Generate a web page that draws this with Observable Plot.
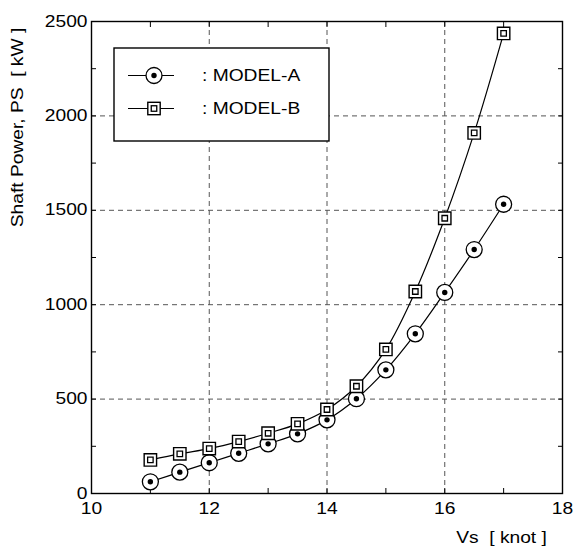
<!DOCTYPE html>
<html>
<head>
<meta charset="utf-8">
<script src="https://cdn.jsdelivr.net/npm/d3@7"></script>
<script src="https://cdn.jsdelivr.net/npm/@observablehq/plot@0.6"></script>
<style>
  html, body { margin: 0; padding: 0; background: #fff; }
  svg text { white-space: pre; }
</style>
</head>
<body>
<div id="chart"></div>
<script>
// ---- data ----
const speeds = [11, 11.5, 12, 12.5, 13, 13.5, 14, 14.5, 15, 15.5, 16, 16.5, 17];
const modelA = [62, 113, 163, 213, 263, 316, 390, 502, 655, 846, 1065, 1292, 1532];
const modelB = [178, 210, 238, 275, 319, 369, 445, 568, 763, 1070, 1458, 1910, 2437];
const seriesNames = ["MODEL-A", "MODEL-B"];
const xTicksMajor = [10, 12, 14, 16, 18];
const xTicksAll = [10, 11, 12, 13, 14, 15, 16, 17, 18];
const yTicksMajor = [0, 500, 1000, 1500, 2000, 2500];
const yTicksAll = [0, 250, 500, 750, 1000, 1250, 1500, 1750, 2000, 2250, 2500];
const xGrid = [12, 14, 16];
const yGrid = [500, 1000, 1500, 2000];
const xLabel = "Vs  [ knot ]";
const yLabel = "Shaft Power, PS  [ kW ]";

const A = speeds.map((v, i) => ({x: v, y: modelA[i]}));
const B = speeds.map((v, i) => ({x: v, y: modelB[i]}));

const FONT = "Liberation Sans, Arial, Helvetica, sans-serif";
const lab = d => xTicksMajor.includes(d) ? String(d) : "";
const ylab = d => yTicksMajor.includes(d) ? String(d) : "";

const chart = Plot.plot({
  width: 575,
  height: 552,
  marginLeft: 91,
  marginRight: 13,
  marginTop: 21,
  marginBottom: 59,
  style: {fontFamily: FONT, fontSize: "16px", background: "#fff", color: "#000"},
  x: {domain: [10, 18]},
  y: {domain: [0, 2500]},
  marks: [
    Plot.gridX(xGrid, {stroke: "#555", strokeOpacity: 1, strokeDasharray: "5,4", strokeWidth: 1}),
    Plot.gridY(yGrid, {stroke: "#555", strokeOpacity: 1, strokeDasharray: "5,4", strokeWidth: 1}),
    Plot.axisX(xTicksAll, {anchor: "bottom", tickSize: -5, tickPadding: 14, tickFormat: lab, label: null, fontSize: 16}),
    Plot.axisX(xTicksAll, {anchor: "top", tickSize: -5, tickFormat: () => "", label: null}),
    Plot.axisY(yTicksAll, {anchor: "left", tickSize: -5, tickPadding: 9, tickFormat: ylab, label: null, fontSize: 16}),
    Plot.axisY(yTicksAll, {anchor: "right", tickSize: -5, tickFormat: () => "", label: null}),
    Plot.frame({stroke: "#000", strokeWidth: 1.4}),
    Plot.line(A, {x: "x", y: "y", curve: "catmull-rom", stroke: "#000", strokeWidth: 1.2}),
    Plot.line(B, {x: "x", y: "y", curve: "catmull-rom", stroke: "#000", strokeWidth: 1.2}),
    Plot.dot(A, {x: "x", y: "y", r: 8, fill: "#fff", stroke: "#000", strokeWidth: 1.3}),
    Plot.dot(A, {x: "x", y: "y", r: 2.7, fill: "#000", stroke: "none"}),
    Plot.dot(B, {x: "x", y: "y", symbol: "square", r: 7, fill: "#fff", stroke: "#000", strokeWidth: 1.4}),
    Plot.dot(B, {x: "x", y: "y", symbol: "square", r: 3.1, fill: "#fff", stroke: "#000", strokeWidth: 1.3}),
    Plot.text([xLabel], {frameAnchor: "bottom-right", dx: -61, dy: 49, text: d => d, textAnchor: "middle", fontSize: 16, fill: "#000"}),
    Plot.text([yLabel], {frameAnchor: "top-left", dx: -80, dy: 106, rotate: -90, text: d => d, textAnchor: "middle", fontSize: 16, fill: "#000"})
  ]
});

document.getElementById("chart").appendChild(chart);

// ---- legend (drawn inside the plot frame, top-left) ----
const svg = d3.select(chart);
const lg = svg.append("g").attr("font-family", FONT).attr("font-size", 16).attr("text-anchor", "start");
lg.append("rect").attr("x", 114).attr("y", 48).attr("width", 215).attr("height", 93)
  .attr("fill", "#fff").attr("stroke", "#000").attr("stroke-width", 1.4);
const rows = [75.5, 108.5];
seriesNames.forEach((name, i) => {
  const y = rows[i];
  lg.append("line").attr("x1", 128).attr("x2", 174).attr("y1", y).attr("y2", y)
    .attr("stroke", "#000").attr("stroke-width", 1.2);
  if (i === 0) {
    lg.append("circle").attr("cx", 154).attr("cy", y).attr("r", 8).attr("fill", "#fff").attr("stroke", "#000").attr("stroke-width", 1.3);
    lg.append("circle").attr("cx", 154).attr("cy", y).attr("r", 2.7).attr("fill", "#000");
  } else {
    lg.append("rect").attr("x", 154 - 6.2).attr("y", y - 6.2).attr("width", 12.4).attr("height", 12.4).attr("fill", "#fff").attr("stroke", "#000").attr("stroke-width", 1.4);
    lg.append("rect").attr("x", 154 - 2.75).attr("y", y - 2.75).attr("width", 5.5).attr("height", 5.5).attr("fill", "#fff").attr("stroke", "#000").attr("stroke-width", 1.3);
  }
  lg.append("text").attr("x", 202).attr("y", y).attr("dy", "0.36em").attr("fill", "#000").attr("text-anchor", "start").text(": " + name);
});

// horizontal stretch of text to match the reference's wide lettering
chart.querySelectorAll("text").forEach(t => {
  const s = t.textContent;
  if (!s || !s.trim()) return;
  const len = t.getComputedTextLength();
  if (len > 0) {
    t.setAttribute("textLength", (len * 1.2).toFixed(1));
    t.setAttribute("lengthAdjust", "spacingAndGlyphs");
  }
});
</script>
</body>
</html>
